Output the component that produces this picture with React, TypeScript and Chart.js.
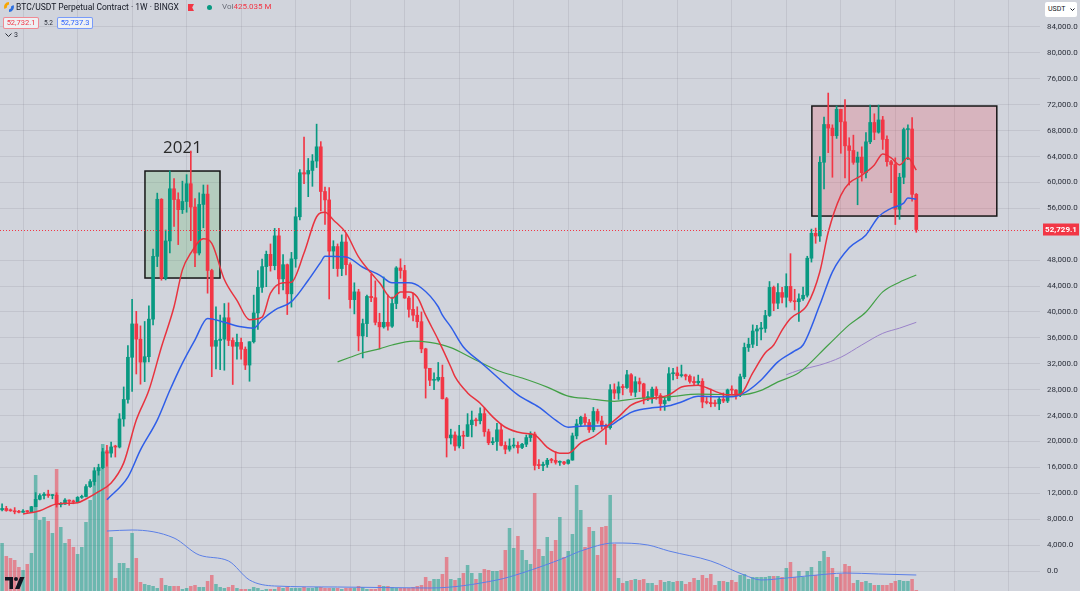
import React, { useEffect, useRef } from 'react';
import { Chart, registerables } from 'chart.js';

Chart.register(...registerables);

// ---------- styling constants ----------
const BG = '#d1d4dc';
const GRID = 'rgba(90,96,110,0.13)';
const UP = '#089981';
const DOWN = '#f23645';
const UP_VOL = 'rgba(8,153,129,0.5)';
const DOWN_VOL = 'rgba(242,54,69,0.5)';

// ---------- categories (weekly candles, plus empty space on the right) ----------
const firstWeek = Date.UTC(2020, 5, 1);
const slotCount = 248;
const weekLabels = Array.from({ length: slotCount }, (_, i) =>
  new Date(firstWeek + i * 604800000).toISOString().slice(0, 10)
);
const quarterGridBars = [5, 18, 31, 44, 57, 70, 83, 96, 109, 122, 135, 148, 161, 174, 187, 200, 213, 227, 240];
const priceTicks = [
  0, 4000, 8000, 12000, 16000, 20000, 24000, 28000, 32000, 36000, 40000,
  44000, 48000, 56000, 60000, 64000, 68000, 72000, 76000, 80000, 84000,
];

// ---------- OHLC [open, high, low, close] ----------
const candles2020 = [
  [9450, 10380, 9260, 9660], [9660, 9990, 9220, 9340], [9340, 9590, 9210, 9300], [9300, 9790, 8830, 9140],
  [9140, 9370, 8950, 9070], [9070, 9470, 9060, 9250], [9250, 9350, 9050, 9160], [9160, 9980, 9130, 9930],
  [9930, 12100, 9920, 11070], [11070, 11900, 10960, 11650], [11650, 12090, 11120, 11850], [11850, 12480, 11360, 11650],
  [11650, 11800, 11150, 11710], [11710, 12080, 9870, 10250], [10250, 10580, 9890, 10330], [10330, 11180, 10270, 10950],
  [10950, 10990, 10140, 10770], [10770, 10950, 10380, 10660], [10660, 11490, 10530, 11370], [11370, 11720, 11210, 11500],
  [11500, 13350, 11420, 13030], [13030, 14100, 12900, 13800], [13800, 15970, 13250, 15480], [15480, 16490, 14800, 15960],
  [15960, 18940, 15780, 18400], [18400, 19420, 16200, 18200], [18200, 19920, 17570, 19160], [19160, 19420, 17600, 19140],
  [19140, 24300, 19000, 23480], [23480, 28420, 22350, 26490], [26490, 34800, 25900, 33000],
];
const candles2021 = [
  [33000, 41950, 27730, 38150], [38150, 40100, 30420, 35800], [35800, 37850, 28850, 32260], [32260, 38530, 29240, 33090],
  [33090, 40950, 32300, 38890], [38890, 49700, 37990, 48580], [48580, 58350, 47000, 57400], [57400, 57500, 44900, 45200],
  [45200, 52650, 44950, 50970], [50970, 61780, 49100, 59020], [59020, 60600, 53200, 57350], [57350, 58400, 50400, 55800],
  [55800, 60200, 55200, 57060], [57060, 61200, 55400, 59800], [59800, 64850, 51000, 56200], [56200, 57500, 47000, 49100],
  [49100, 58400, 48800, 56600], [56600, 59600, 53000, 58200], [58200, 59600, 42900, 46400], [46400, 46600, 30000, 34700],
  [34700, 40800, 31200, 35600], [35600, 39500, 31100, 35800], [35800, 41300, 31000, 39100], [39100, 41400, 34800, 35600],
  [35600, 36000, 28800, 34700], [34700, 36600, 32700, 35300], [35300, 35950, 32700, 34250], [34250, 34600, 31100, 31800],
  [31800, 35400, 29300, 35400], [35400, 42600, 35200, 39850], [39850, 46400, 37300, 43800], [43800, 48150, 43000, 47000],
  [47000, 49400, 43900, 48900], [48900, 50500, 46300, 47150], [47150, 52900, 46500, 51750], [51750, 52900, 42800, 45100],
  [45100, 48850, 43400, 47300], [47300, 47400, 39600, 42800], [42800, 49200, 40750, 48200], [48200, 56100, 46900, 54700],
  [54700, 62000, 54200, 61500], [61500, 67000, 59800, 61300], [61300, 63700, 57800, 61850], [61850, 64300, 59400, 63300],
  [63300, 69000, 62300, 65500], [65500, 66300, 55600, 58600], [58600, 59300, 53500, 57300], [57300, 59200, 42000, 49400],
  [49400, 51000, 46700, 50100], [50100, 50500, 45500, 46700], [46700, 51900, 45600, 50800], [50800, 52100, 45700, 47300],
];
const candles2022 = [
  [47300, 47600, 40600, 41900], [41900, 44500, 39700, 43100], [43100, 43500, 34000, 36300], [36300, 38900, 32900, 38200],
  [38200, 42600, 36200, 42400], [42400, 45800, 41600, 42200], [42200, 44800, 38000, 38400], [38400, 39800, 34300, 37700],
  [37700, 45400, 37500, 38400], [38400, 42600, 37200, 37800], [37800, 42300, 37600, 41300], [41300, 47000, 40500, 46800],
  [46800, 48200, 45200, 46400], [46400, 47200, 42100, 42150], [42150, 42400, 39200, 40400], [40400, 42900, 38600, 39500],
  [39500, 40800, 37600, 38500], [38500, 40000, 33700, 34300], [34300, 34400, 26700, 31300], [31300, 31300, 28600, 29450],
  [29450, 30600, 28000, 29500], [29500, 32200, 29300, 29900], [29900, 31800, 26550, 26600], [26600, 26800, 17600, 20550],
  [20550, 21900, 19600, 21000], [21000, 21500, 18600, 19300], [19300, 22500, 19000, 20850], [20850, 21600, 18900, 20800],
  [20800, 24300, 20750, 22600], [22600, 24700, 20700, 23300], [23300, 23600, 22400, 23200], [23200, 25200, 22700, 24300],
  [24300, 25200, 20800, 21500], [21500, 21900, 19500, 19800], [19800, 20600, 19500, 19990], [19990, 22800, 18600, 21800],
  [21800, 22700, 19300, 19400], [19400, 19950, 18100, 18800], [18800, 20400, 18500, 19300], [19300, 20500, 19000, 19400],
  [19400, 19950, 18200, 19070], [19070, 19700, 18900, 19570], [19570, 21000, 19200, 20600], [20600, 21500, 20000, 21150],
  [21150, 21450, 15600, 16300], [16300, 17200, 15800, 16280], [16280, 16800, 15500, 16450], [16450, 17400, 16000, 17100],
  [17100, 17400, 16700, 17080], [17080, 18400, 16500, 16780], [16780, 17000, 16300, 16840], [16840, 16950, 16400, 16610],
];
const candles2023 = [
  [16610, 17200, 16500, 17130], [17130, 21300, 17100, 20870], [20870, 23400, 20400, 22700], [22700, 23900, 22300, 23750],
  [23750, 24250, 22500, 22930], [22930, 23400, 21400, 21800], [21800, 25250, 21500, 24630], [24630, 25000, 22800, 23160],
  [23160, 23900, 21900, 22430], [22430, 22700, 19550, 22140], [22140, 28800, 21900, 27990], [27990, 28900, 26600, 27480],
  [27480, 29200, 26500, 28450], [28450, 28800, 27200, 28330], [28330, 31000, 28200, 30300], [30300, 30500, 27100, 27600],
  [27600, 30000, 26900, 29230], [29230, 29800, 27700, 28890], [28890, 29000, 25800, 26770], [26770, 27700, 26300, 26850],
  [26850, 28400, 25900, 28080], [28080, 28450, 26500, 27100], [27100, 27400, 24800, 25850], [25850, 26800, 24800, 26340],
  [26340, 31400, 26250, 30460], [30460, 31300, 29500, 30590], [30590, 31500, 29700, 30170], [30170, 31800, 29950, 30290],
  [30290, 30400, 29500, 30080], [30080, 30300, 29000, 29280], [29280, 30000, 28600, 29060], [29060, 30250, 28700, 29300],
  [29300, 29700, 25200, 26090], [26090, 26800, 25800, 26010], [26010, 28100, 25350, 25830], [25830, 26400, 25400, 25820],
  [25820, 26900, 24900, 26530], [26530, 27500, 26000, 26250], [26250, 28100, 26000, 27970], [27970, 28600, 27200, 27930],
  [27930, 28000, 26550, 27150], [27150, 30400, 26900, 29990], [29990, 35200, 29700, 34520], [34520, 35950, 33900, 35010],
  [35010, 38000, 34500, 37060], [37060, 37950, 34800, 37370], [37370, 38400, 35700, 37450], [37450, 40250, 36850, 39450],
  [39450, 44700, 39300, 43790], [43790, 44000, 40200, 41350], [41350, 44400, 40500, 43000], [43000, 43800, 41400, 42270],
];
const candles2024 = [
  [42270, 45900, 40750, 43950], [43950, 49000, 41500, 41730], [41730, 43500, 40300, 41580], [41580, 42800, 38550, 42030],
  [42030, 43850, 41800, 42580], [42580, 48600, 42300, 48300], [48300, 52800, 47700, 52140], [52140, 52950, 50600, 51730],
  [51730, 64000, 50900, 63110], [63110, 70100, 59000, 68950], [68950, 73800, 64600, 68390], [68390, 68900, 60800, 67210],
  [67210, 71800, 66800, 71280], [71280, 71300, 64500, 69360], [69360, 72800, 60700, 65650], [65650, 66900, 59600, 64940],
  [64940, 67300, 62800, 63100], [63100, 64700, 56550, 63900], [63900, 65500, 60200, 61500], [61500, 67700, 60700, 66270],
  [66270, 71950, 66000, 69260], [69260, 70600, 66600, 67750], [67750, 71950, 67600, 69650], [69650, 70200, 65100, 66650],
  [66650, 67200, 62500, 63210], [63210, 63400, 58400, 62770], [62770, 63800, 53500, 55860], [55860, 61400, 54300, 60800],
  [60800, 68400, 59800, 68160], [68160, 68900, 63500, 68250], [68250, 70000, 57100, 58160], [58160, 58300, 52300, 52729],
];
const candles = [...candles2020, ...candles2021, ...candles2022, ...candles2023, ...candles2024];

// ---------- volume (relative units) ----------
const volume = [
  48, 35, 33, 31, 24, 21, 27, 38, 116, 71,
  74, 70, 58, 122, 64, 48, 52, 44, 37, 44,
  69, 91, 111, 124, 147, 141, 54, 13, 28, 28,
  23, 58, 33, 9, 7, 6, 5, 3, 13, 6,
  5, 5, 5, 2, 3, 5, 6, 4, 4, 10,
  16, 7, 4, 3, 4, 6, 3, 2, 2, 2,
  4, 3, 1, 2, 2, 2, 4, 3, 4, 3,
  3, 3, 4, 3, 3, 4, 4, 3, 3, 3,
  3, 2, 3, 3, 3, 5, 4, 2, 2, 2,
  6, 5, 5, 4, 3, 3, 3, 3, 4, 5,
  6, 14, 10, 12, 12, 17, 34, 12, 11, 13,
  18, 26, 18, 12, 18, 22, 21, 20, 20, 21,
  41, 63, 43, 55, 41, 31, 27, 98, 42, 35,
  54, 40, 51, 74, 34, 40, 57, 106, 81, 44,
  64, 60, 36, 64, 65, 96, 47, 13, 8, 10,
  11, 12, 11, 12, 8, 8, 6, 11, 9, 10,
  9, 10, 10, 7, 9, 13, 11, 16, 13, 17,
  6, 10, 10, 9, 11, 9, 16, 17, 12, 14,
  14, 14, 14, 15, 15, 15, 14, 23, 29, 14,
  20, 14, 20, 24, 16, 30, 40, 34, 23, 14,
  17, 27, 25, 8, 11, 9, 10, 8, 6, 6,
  6, 6, 8, 10, 11, 10, 10, 12, 1,
];

// ---------- moving averages: [bar index, value] ----------
const maRed = [
  [5, 8800], [9, 9310], [13, 10350], [18, 10550], [20, 11120], [23, 12250], [26, 13600], [29, 16700], [32, 23300],
  [35, 27900], [38, 34600], [41, 40800], [43, 46500], [45, 49100], [48, 51300], [50, 50600], [53, 45000], [56, 41800],
  [59, 38800], [62, 39200], [64, 42900], [67, 44500], [69, 44600], [72, 49100], [75, 54700], [77, 55400], [79, 54200],
  [82, 52200], [85, 48500], [88, 46000], [90, 44500], [93, 42100], [95, 43100], [97, 43100], [99, 42300], [101, 39500],
  [104, 35700], [107, 31500], [108, 30000], [111, 27500], [114, 25900], [117, 23800], [120, 22200], [124, 21300],
  [127, 21000], [130, 19100], [133, 18200], [135, 18200], [138, 19800], [141, 20700], [144, 22200], [147, 23800],
  [150, 25600], [153, 26400], [159, 27200], [162, 28400], [166, 28700], [168, 28300], [171, 27500], [173, 27200],
  [176, 27300], [179, 30600], [182, 33700], [184, 34900], [186, 37200], [188, 39000], [192, 41100], [195, 46200],
  [197, 52300], [200, 58000], [202, 59900], [205, 61100], [208, 62700], [210, 64400], [212, 63800], [214, 62700],
  [216, 63800], [218, 61900],
];
const maBlue = [
  [25, 11000], [30, 14500], [33, 18700], [37, 23300], [40, 27900], [43, 32100], [46, 35700], [49, 39000], [53, 38400],
  [57, 37700], [60, 37500], [62, 38800], [65, 40300], [69, 41600], [73, 44900], [76, 47700], [77, 48600], [82, 48500],
  [86, 46900], [90, 45700], [93, 44500], [97, 44500], [100, 43700], [104, 40800], [105, 39500], [107, 37700],
  [110, 34600], [114, 32300], [118, 30000], [123, 27200], [128, 25300], [132, 23300], [135, 22200], [139, 22400],
  [142, 22400], [145, 22500], [147, 23300], [150, 24500], [152, 24900], [155, 25200], [159, 25500], [162, 26100],
  [166, 27000], [171, 26900], [174, 26900], [177, 27500], [181, 29500], [185, 32300], [189, 34000], [191, 34900],
  [195, 41100], [198, 46200], [202, 49900], [206, 51900], [209, 54700], [212, 56000], [215, 56800], [216, 57600],
  [218, 57400],
];
const maGreen = [
  [80, 32300], [83, 33000], [86, 33700], [90, 34300], [93, 34900], [98, 35500], [102, 35300], [107, 34500],
  [112, 32900], [118, 31000], [124, 29800], [130, 28400], [135, 27000], [140, 26600], [146, 26200], [151, 26600],
  [159, 26900], [166, 27300], [176, 27200], [181, 27900], [185, 29200], [190, 30600], [197, 34900], [202, 38000],
  [206, 40000], [210, 43100], [214, 44600], [218, 45700],
];
const maPurple = [
  [187, 30300], [190, 31000], [195, 31800], [200, 33000], [205, 34900], [210, 36700], [214, 37500], [218, 38400],
];
const volMa = [
  [25, 60], [31, 61], [41, 53], [47, 36], [54, 30], [59, 11], [65, 5], [80, 4], [102, 3], [118, 11], [124, 18],
  [134, 33], [138, 40], [146, 48], [154, 46], [159, 40], [169, 30], [177, 16], [181, 11], [187, 13], [197, 17],
  [201, 18], [209, 17], [218, 16],
];

const lastPrice = 52729.1;
const zone2021 = { from: 34.07, to: 51.96, top: 61760, bottom: 45240, text: '2021' };
const zoneTop = { from: 193.1, to: 237.2, top: 71800, bottom: 54810 };

const fmtPrice = (v: number) =>
  v === 0 ? '0.0' : v.toLocaleString('en-US', { minimumFractionDigits: 1, maximumFractionDigits: 1 });

const overlayPlugin = {
  id: 'overlay',
  beforeDatasetsDraw(chart: any) {
    const { ctx, scales } = chart;
    const xs = scales.x;
    const ys = scales.y;
    const drawZone = (z: any, fill: string) => {
      const x0 = xs.getPixelForValue(z.from);
      const x1 = xs.getPixelForValue(z.to);
      const y0 = ys.getPixelForValue(z.top);
      const y1 = ys.getPixelForValue(z.bottom);
      ctx.save();
      ctx.fillStyle = fill;
      ctx.fillRect(x0, y0, x1 - x0, y1 - y0);
      ctx.strokeStyle = '#161616';
      ctx.lineWidth = 1.5;
      ctx.strokeRect(x0, y0, x1 - x0, y1 - y0);
      if (z.text) {
        ctx.fillStyle = '#2a2a2a';
        ctx.font = '17px "Open Sans", Roboto, sans-serif';
        ctx.textAlign = 'center';
        ctx.textBaseline = 'middle';
        ctx.fillText(z.text, (x0 + x1) / 2, y0 - 23);
      }
      ctx.restore();
    };
    drawZone(zone2021, 'rgba(76,175,80,0.21)');
    drawZone(zoneTop, 'rgba(242,54,69,0.2)');
  },
  afterDatasetsDraw(chart: any) {
    const { ctx, chartArea, scales } = chart;
    const y = Math.round(scales.y.getPixelForValue(lastPrice)) + 0.5;
    ctx.save();
    ctx.strokeStyle = DOWN;
    ctx.lineWidth = 1;
    ctx.setLineDash([1, 2]);
    ctx.beginPath();
    ctx.moveTo(chartArea.left, y);
    ctx.lineTo(chartArea.right, y);
    ctx.stroke();
    ctx.restore();
  },
  afterDraw(chart: any) {
    const { ctx, chartArea, scales } = chart;
    const y = scales.y.getPixelForValue(lastPrice);
    ctx.save();
    ctx.fillStyle = DOWN;
    ctx.fillRect(chartArea.right + 3, y - 6, 36, 12);
    ctx.fillStyle = '#ffffff';
    ctx.font = 'bold 8px Roboto, sans-serif';
    ctx.textAlign = 'center';
    ctx.textBaseline = 'middle';
    ctx.fillText(fmtPrice(lastPrice), chartArea.right + 21, y + 0.5);
    ctx.restore();
  },
};

const toPoints = (arr: number[][]) => arr.map(([i, v]) => ({ x: weekLabels[i], y: v }));

export default function App() {
  const canvasRef = useRef<HTMLCanvasElement | null>(null);

  useEffect(() => {
    if (!canvasRef.current) return;
    const upFlags = candles.map((c) => c[3] >= c[0]);
    const candleColors = upFlags.map((u) => (u ? UP : DOWN));
    const volColors = upFlags.map((u) => (u ? UP_VOL : DOWN_VOL));

    const lineStyle = (color: string, width: number) => ({
      type: 'line' as const,
      borderColor: color,
      borderWidth: width,
      pointRadius: 0,
      tension: 0.4,
      cubicInterpolationMode: 'monotone' as const,
      fill: false,
    });

    const chart = new Chart(canvasRef.current, {
      type: 'bar',
      data: {
        labels: weekLabels,
        datasets: [
          {
            type: 'bar',
            label: 'Volume',
            data: volume,
            backgroundColor: volColors,
            yAxisID: 'yv',
            grouped: false,
            barPercentage: 0.84,
            categoryPercentage: 1,
            order: 20,
          } as any,
          {
            type: 'bar',
            label: 'Wick',
            data: candles.map((c) => [c[2], c[1]]),
            backgroundColor: candleColors,
            yAxisID: 'y',
            grouped: false,
            barThickness: 1,
            order: 10,
          } as any,
          {
            type: 'bar',
            label: 'Body',
            data: candles.map((c) => [Math.min(c[0], c[3]), Math.max(c[0], c[3])]),
            backgroundColor: candleColors,
            yAxisID: 'y',
            grouped: false,
            barThickness: 3,
            minBarLength: 1,
            order: 9,
          } as any,
          { ...lineStyle('#5b7fe6', 1), label: 'Vol MA', data: toPoints(volMa), yAxisID: 'yv', order: 8 } as any,
          { ...lineStyle('#9a82c9', 1), label: 'MA long', data: toPoints(maPurple), yAxisID: 'y', order: 4 } as any,
          { ...lineStyle('#43a047', 1.2), label: 'MA slow', data: toPoints(maGreen), yAxisID: 'y', order: 3 } as any,
          { ...lineStyle('#2f5ee8', 1.5), label: 'MA mid', data: toPoints(maBlue), yAxisID: 'y', order: 2 } as any,
          { ...lineStyle('#e8333f', 1.5), label: 'MA fast', data: toPoints(maRed), yAxisID: 'y', order: 1 } as any,
        ],
      },
      options: {
        animation: false,
        responsive: true,
        maintainAspectRatio: false,
        events: [],
        layout: { padding: 0, autoPadding: false },
        plugins: { legend: { display: false }, tooltip: { enabled: false } },
        scales: {
          x: {
            type: 'category',
            offset: true,
            grid: {
              offset: false,
              drawTicks: false,
              color: (ctx: any) => (quarterGridBars.includes(ctx.index) ? GRID : 'rgba(0,0,0,0)'),
            },
            border: { display: false },
            ticks: { display: false, autoSkip: false },
            afterFit: (s: any) => {
              s.height = 0;
              s.paddingLeft = 0;
              s.paddingRight = 0;
            },
          },
          y: {
            type: 'linear',
            position: 'right',
            min: -3088,
            max: 88169,
            afterBuildTicks: (s: any) => {
              s.ticks = priceTicks.map((v) => ({ value: v }));
            },
            afterFit: (s: any) => {
              s.width = 40;
              s.paddingTop = 0;
              s.paddingBottom = 0;
            },
            grid: { color: GRID, drawTicks: false },
            border: { display: false },
            ticks: {
              padding: 7,
              color: '#2a2e39',
              font: { size: 8, family: 'Roboto, sans-serif' },
              callback: (v: any) => fmtPrice(Number(v)),
            },
          },
          yv: {
            type: 'linear',
            display: false,
            min: 0,
            max: 591,
          },
        },
      } as any,
      plugins: [overlayPlugin as any],
    });
    return () => chart.destroy();
  }, []);

  const font = 'Roboto, "Noto Sans", sans-serif';
  return (
    <div style={{ position: 'fixed', left: 0, top: 0, width: 1080, height: 591, background: BG, overflow: 'hidden', fontFamily: font }}>
      <canvas ref={canvasRef} style={{ position: 'absolute', left: 0, top: 0 }} />
      {/* legend row 1 */}
      <svg width="12" height="12" style={{ position: 'absolute', left: 3, top: 1 }}>
        <path d="M6 1 A5 5 0 0 0 1.5 8 L4 6.5 A2.5 2.5 0 0 1 6 3.5 Z" fill="#f7a600" />
        <path d="M6 11 A5 5 0 0 0 10.5 4 L8 5.5 A2.5 2.5 0 0 1 6 8.5 Z" fill="#2c6fe0" />
      </svg>
      <div style={{ position: 'absolute', left: 16, top: 1, fontSize: 8.5, color: '#131722', whiteSpace: 'nowrap', lineHeight: '12px' }}>
        BTC/USDT Perpetual Contract · 1W · BINGX
      </div>
      <div style={{ position: 'absolute', left: 188, top: 4, width: 6, height: 7, background: DOWN, clipPath: 'polygon(0 0,100% 0,70% 50%,100% 100%,0 100%)' }} />
      <div style={{ position: 'absolute', left: 207, top: 5, width: 5, height: 5, borderRadius: '50%', background: UP }} />
      <div style={{ position: 'absolute', left: 222, top: 1, fontSize: 8, whiteSpace: 'nowrap', lineHeight: '12px' }}>
        <span style={{ color: '#6a6d78' }}>Vol</span>
        <span style={{ color: DOWN }}>425.035 M</span>
      </div>
      {/* legend row 2 */}
      <div style={{ position: 'absolute', left: 3, top: 17, width: 34, height: 10, border: '1px solid rgba(242,54,69,0.55)', borderRadius: 2, background: '#eef0f3', color: DOWN, fontSize: 7.5, lineHeight: '10px', textAlign: 'center' }}>
        52,732.1
      </div>
      <div style={{ position: 'absolute', left: 44, top: 17, fontSize: 6.5, lineHeight: '12px', color: '#2a2e39' }}>5.2</div>
      <div style={{ position: 'absolute', left: 57, top: 17, width: 34, height: 10, border: '1px solid rgba(41,98,255,0.6)', borderRadius: 2, background: '#eef0f3', color: '#2962ff', fontSize: 7.5, lineHeight: '10px', textAlign: 'center' }}>
        52,737.3
      </div>
      {/* legend row 3 */}
      <svg width="7" height="5" style={{ position: 'absolute', left: 5, top: 33 }}>
        <polyline points="0.5,0.5 3.5,3.5 6.5,0.5" fill="none" stroke="#2a2e39" strokeWidth="1" />
      </svg>
      <div style={{ position: 'absolute', left: 14, top: 30, fontSize: 7, lineHeight: '10px', color: '#2a2e39' }}>3</div>
      {/* currency selector */}
      <div style={{ position: 'absolute', left: 1045, top: 2, width: 32, height: 15, background: '#ffffff', borderRadius: 2 }}>
        <span style={{ position: 'absolute', left: 3, top: 1, fontSize: 7, lineHeight: '13px', color: '#131722' }}>USDT</span>
        <svg width="5" height="4" style={{ position: 'absolute', left: 25, top: 6 }}>
          <polyline points="0.5,0.5 2.5,2.5 4.5,0.5" fill="none" stroke="#131722" strokeWidth="1" />
        </svg>
      </div>
      {/* TradingView logo */}
      <svg width="20" height="12" style={{ position: 'absolute', left: 5, top: 577 }}>
        <path d="M0 0 H8 V12 H4.5 V3.5 H0 Z" fill="#131722" />
        <circle cx="11" cy="2" r="2" fill="#131722" />
        <path d="M15 0 H19.5 L14.5 12 H10 Z" fill="#131722" />
      </svg>
    </div>
  );
}
